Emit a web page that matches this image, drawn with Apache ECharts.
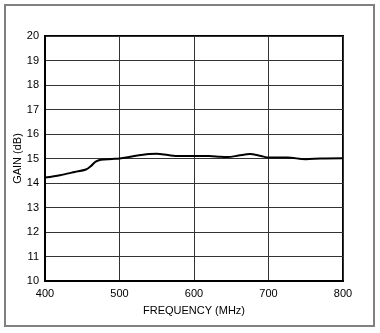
<!DOCTYPE html>
<html>
<head>
<meta charset="utf-8">
<script src="https://cdn.jsdelivr.net/npm/echarts@6/dist/echarts.min.js"></script>
<style>
  html, body { margin: 0; padding: 0; background: #fff; }
  #chart { width: 380px; height: 333px; }
</style>
</head>
<body>
<div id="chart"></div>
<script>
// Gain vs. frequency sweep
const freqMHz = [400, 420, 440, 455, 462, 468, 475, 490, 500, 520, 540, 550, 565, 580, 600, 620, 635, 645, 660, 675, 690, 700, 725, 750, 770, 800];
const gainDb  = [14.22, 14.32, 14.45, 14.55, 14.7, 14.87, 14.95, 14.98, 15.0, 15.1, 15.18, 15.19, 15.14, 15.1, 15.1, 15.1, 15.07, 15.06, 15.12, 15.18, 15.1, 15.04, 15.04, 14.97, 15.0, 15.01];
const xTicks = [400, 500, 600, 700, 800];
const yTicks = [10, 11, 12, 13, 14, 15, 16, 17, 18, 19, 20];

const font = 'Liberation Sans, Arial, sans-serif';
const chart = echarts.init(document.getElementById('chart'), null, { renderer: 'canvas' });

chart.setOption({
  animation: false,
  backgroundColor: '#fff',
  graphic: [{
    type: 'rect',
    shape: { x: 5, y: 5, width: 369, height: 321 },
    style: { fill: 'none', stroke: '#808080', lineWidth: 2 },
    silent: true
  }],
  grid: {
    left: 45, right: 37, top: 36, bottom: 52,
    containLabel: false, outerBoundsMode: 'none',
    show: true, borderColor: '#000', borderWidth: 2, backgroundColor: 'transparent'
  },
  xAxis: {
    type: 'value',
    min: xTicks[0], max: xTicks[xTicks.length - 1], interval: 100,
    name: 'FREQUENCY (MHz)', nameLocation: 'middle', nameGap: 24, nameMoveOverlap: false,
    nameTextStyle: { fontFamily: font, fontSize: 11, color: '#000' },
    axisLine: { show: true, lineStyle: { color: '#000', width: 2 } },
    axisTick: { show: false },
    axisLabel: { fontFamily: font, fontSize: 11, color: '#000', margin: 7 },
    splitLine: { show: true, lineStyle: { color: '#333', width: 1 } }
  },
  yAxis: {
    type: 'value',
    min: yTicks[0], max: yTicks[yTicks.length - 1], interval: 1,
    name: 'GAIN (dB)', nameLocation: 'middle', nameGap: 22, nameMoveOverlap: false,
    nameTextStyle: { fontFamily: font, fontSize: 11, color: '#000' },
    axisLine: { show: true, lineStyle: { color: '#000', width: 2 } },
    axisTick: { show: false },
    axisLabel: { fontFamily: font, fontSize: 11, color: '#000', margin: 6 },
    splitLine: { show: true, lineStyle: { color: '#333', width: 1 } }
  },
  series: [{
    type: 'line',
    data: freqMHz.map((f, i) => [f, gainDb[i]]),
    smooth: 0.3,
    symbol: 'none',
    lineStyle: { color: '#000', width: 2 }
  }]
});
</script>
</body>
</html>
